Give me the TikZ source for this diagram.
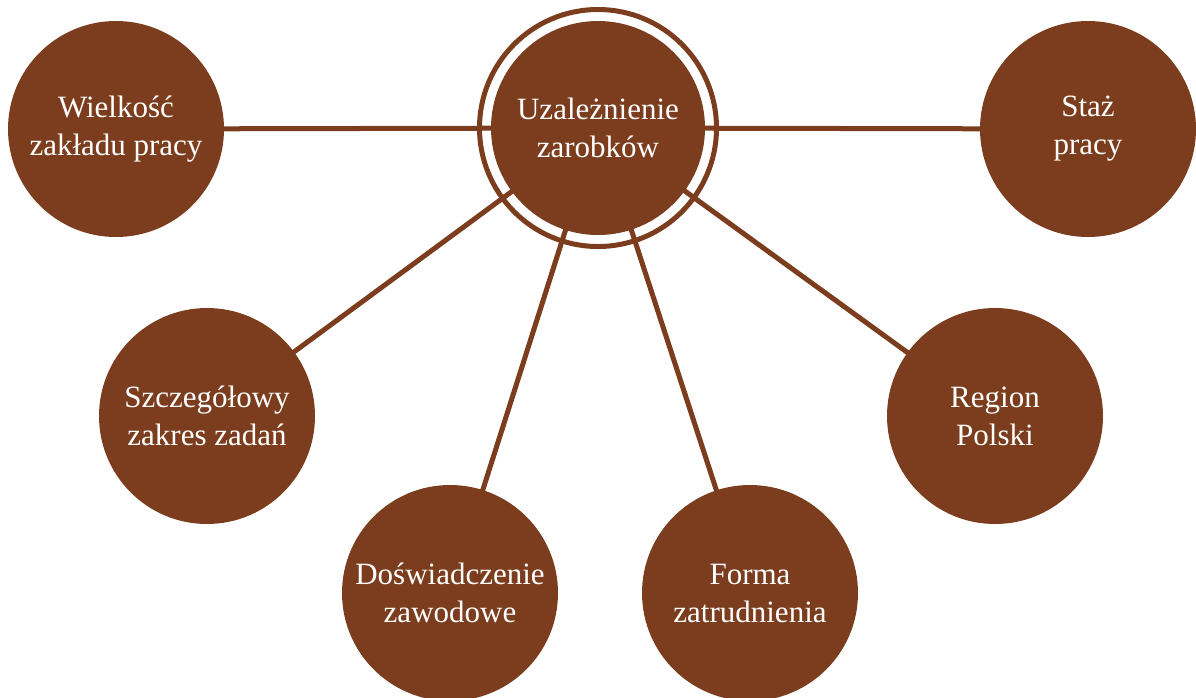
\documentclass[tikz,border=0pt]{standalone}
\usepackage{fontspec}
\setmainfont{Liberation Serif}
\definecolor{brn}{RGB}{123,61,29}
\begin{document}
\begin{tikzpicture}[x=1pt,y=-1pt,
  bubble/.style={circle,fill=brn,draw=none,minimum size=216pt,inner sep=0pt,
    text=white,align=center,font=\fontsize{31}{38}\selectfont},
  link/.style={draw=brn,line width=5pt},
  ring/.style={draw=brn,line width=5pt}]
\useasboundingbox (0,0) rectangle (1196,697);
\coordinate (cc) at (598,128);
\coordinate (pa) at (116,129);
\coordinate (pb) at (1088,129);
\coordinate (pc) at (207,416);
\coordinate (pd) at (995,416);
\coordinate (pe) at (450,593);
\coordinate (pf) at (750,593);
\draw[link] (pa) -- (cc) -- (pb);
\draw[link] (cc) -- (pc);
\draw[link] (cc) -- (pd);
\draw[link] (cc) -- (pe);
\draw[link] (cc) -- (pf);
\node[ring,circle,minimum size=237pt,inner sep=0pt] (ringnode) at (cc) {};
\node[bubble,minimum size=214pt] (c) at (cc) {Uzależnienie\\zarobków};
\node[bubble] (a) at (pa) {Wielkość\\zakładu pracy};
\node[bubble] (b) at (pb) {Staż\\pracy};
\node[bubble] (s) at (pc) {Szczegółowy\\zakres zadań};
\node[bubble] (r) at (pd) {Region\\Polski};
\node[bubble] (d) at (pe) {Doświadczenie\\zawodowe};
\node[bubble] (f) at (pf) {Forma\\zatrudnienia};
\end{tikzpicture}
\end{document}
